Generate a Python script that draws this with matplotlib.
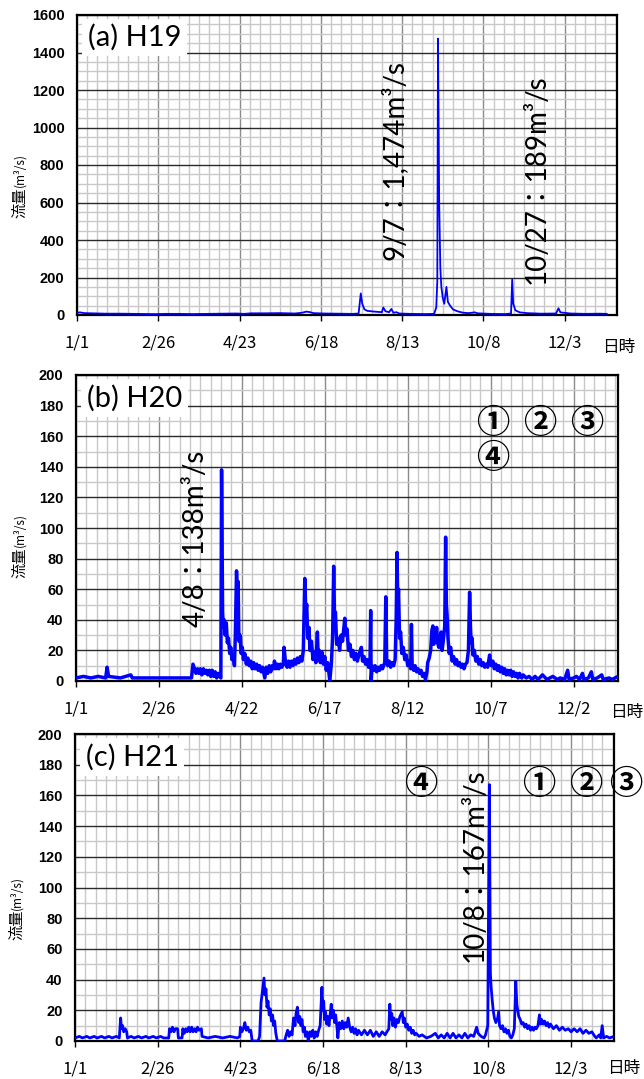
import numpy as np
import matplotlib
matplotlib.use('Agg')
import matplotlib.pyplot as plt
from matplotlib.ticker import MultipleLocator, FixedLocator

plt.rcParams['font.family'] = ['Lato', 'Noto Sans CJK JP', 'DejaVu Sans']

W, H = 644, 1079

# (a) H19 : (dia del año, caudal m3/s)
serie_a = [(0, 12), (2, 14), (5, 10), (10, 9), (15, 8), (20, 7), (30, 7), (40, 6), (50, 5),
           (56, 5), (60, 6), (70, 6), (80, 5), (90, 6), (100, 7), (110, 8), (115, 6),
           (120, 9), (130, 9), (140, 10), (150, 8), (155, 12), (158, 18), (160, 16),
           (163, 10), (170, 8), (180, 7), (190, 6), (194, 8), (195.5, 115), (196.5, 60),
           (198, 30), (200, 22), (205, 18), (210, 15), (211, 40), (212.5, 20), (215, 15),
           (216.5, 32), (218, 12), (220, 15), (222, 8), (230, 6), (240, 5), (246, 6),
           (247.5, 40), (248.2, 180), (248.7, 1474), (249.5, 600), (250.3, 250),
           (251, 150), (252, 90), (253, 60), (254.5, 150), (255.5, 70), (257, 50),
           (259, 30), (262, 20), (266, 12), (270, 10), (274, 14), (276, 9), (285, 6),
           (295, 5), (299, 8), (299.8, 189), (300.5, 60), (302, 25), (305, 14), (310, 10),
           (320, 7), (330, 8), (331.7, 36), (333, 14), (340, 8), (350, 6), (360, 7),
           (364.9, 6)]

# (b) H20
serie_b = [(0, 2), (5, 3), (10, 2), (15, 3), (20, 2), (21, 9), (22, 3), (30, 2), (37, 4),
           (38, 2), (50, 2), (60, 2), (70, 2), (78, 2), (79, 11), (80, 8), (81, 5), (82, 8),
           (83, 5), (84, 8), (85, 4), (86, 8), (87, 5), (88, 7), (89, 4), (90, 7), (91, 3),
           (92, 7), (93, 3), (94, 6), (95, 2), (96, 5), (97.8, 2), (98.3, 138), (99, 45),
           (99.5, 35), (100, 40), (100.7, 30), (101.5, 38), (102.2, 25), (103, 28),
           (103.8, 18), (104.5, 22), (105.3, 14), (106, 17), (107, 10), (107.6, 30),
           (108.4, 72), (109, 55), (109.5, 65), (110, 26), (110.8, 30), (111.5, 18),
           (112.3, 22), (113, 14), (114, 18), (115, 11), (116, 15), (117, 10), (118, 13),
           (119, 8), (120, 12), (121, 8), (122, 11), (123, 7), (124, 10), (125, 6),
           (126, 9), (127.5, 2), (128.5, 9), (129.5, 5), (130.5, 10), (131.5, 6),
           (132.5, 10), (133.5, 8), (134, 13), (135, 8), (136, 11), (137, 8), (138, 11),
           (139, 9), (140, 11), (140.5, 22), (141.5, 12), (142.5, 9), (143.5, 13),
           (144.5, 9), (145.5, 13), (146.5, 10), (147.5, 14), (148.5, 11), (149.5, 15),
           (150.5, 12), (151.5, 16), (152.5, 13), (153.5, 20), (154.5, 67), (155.2, 45),
           (155.8, 50), (156.5, 28), (157.3, 35), (158, 20), (159, 26), (160, 14),
           (161, 19), (162, 12), (163, 32), (163.6, 14), (164.3, 20), (165, 12), (166, 19),
           (167, 11), (168, 16), (169, 7), (170, 12), (171.4, 0), (172.5, 12), (173.3, 30),
           (174, 75), (174.6, 40), (175.2, 45), (176, 24), (177, 28), (178, 20), (179, 30),
           (180, 26), (181.5, 41), (182.3, 30), (183, 34), (184, 20), (185, 24), (186, 16),
           (187, 20), (188, 14), (189, 18), (190, 13), (191, 17), (192.7, 22), (193.5, 13),
           (194.5, 16), (195.5, 11), (196.5, 14), (197.5, 9), (198.5, 10), (199, 46),
           (199.3, 0), (200, 10), (201, 7), (202, 10), (203, 6), (204, 9), (205, 7),
           (206, 10), (207, 8), (208.5, 12), (209.2, 55), (209.8, 14), (210.5, 10),
           (211.5, 13), (212.5, 9), (213.5, 12), (214.5, 10), (215.5, 14), (216.2, 40),
           (216.8, 84), (217.3, 50), (217.8, 60), (218.5, 28), (219.2, 32), (220, 18),
           (221, 22), (222, 14), (223, 17), (224, 10), (225, 13), (226, 8), (226.5, 37),
           (227, 10), (228, 7), (229, 10), (230, 6), (231, 8), (232, 5), (233, 7),
           (234, 3), (235, 5), (236, 1), (237, 6), (237.5, 12), (238.5, 15), (239.5, 20),
           (240.3, 33), (241, 36), (241.6, 24), (242.2, 30), (243, 26), (243.5, 35),
           (244.2, 25), (245, 22), (245.8, 28), (246.5, 32), (247.2, 20), (248, 26),
           (249, 36), (249.6, 94), (250.1, 50), (250.6, 43), (251.2, 28), (252, 18),
           (253, 22), (254, 13), (255, 16), (256, 11), (257, 14), (258, 10), (259, 12),
           (260, 9), (261, 11), (262, 8), (263, 11), (264, 12), (265, 20), (265.8, 58),
           (266.4, 35), (266.8, 25), (267.5, 28), (268, 17), (269, 20), (270, 13),
           (271, 16), (272, 11), (273, 14), (274, 10), (275, 12), (276, 9), (277, 11),
           (278, 9), (279.3, 17), (280, 12), (280.5, 10), (281.5, 13), (282.5, 8),
           (283.5, 11), (284.5, 7), (285.5, 10), (286.5, 6), (287.5, 9), (288.5, 5),
           (289.5, 8), (290.5, 4), (291.5, 7), (292.5, 4), (293.5, 7), (294.5, 3),
           (295.5, 6), (296.5, 3), (297.5, 5), (298.5, 2), (299.5, 5), (301, 2), (302, 4),
           (304, 2), (306, 3), (308, 1), (310, 3), (312, 1), (315, 4), (318, 1), (322, 3),
           (325, 1), (327, 2), (330, 1), (332, 7), (333, 1), (336, 2), (338, 3), (340, 1),
           (342, 5), (343, 1), (346, 2), (348, 6), (349, 1), (352, 2), (355, 4), (356, 1),
           (360, 2), (362, 1), (365.9, 3)]

# (c) H21
serie_c = [(0, 2), (3, 3), (5, 2), (8, 3), (10, 2), (13, 3), (15, 2), (18, 3), (20, 2),
           (23, 3), (25, 2), (28, 3), (30, 2), (30.9, 15), (31.5, 8), (32.2, 10), (33, 6),
           (34, 8), (35, 6), (35.5, 2), (38, 3), (40, 2), (43, 3), (45, 2), (48, 3),
           (50, 2), (53, 3), (55, 2), (58, 3), (60, 2), (63.5, 2), (64, 8), (65, 6),
           (66, 9), (67, 6), (68, 8), (69.5, 8), (70, 2), (72.5, 2), (73, 8), (74, 5),
           (75, 8), (76, 6), (77, 9), (78, 6), (79, 9), (80, 6), (81, 8), (82, 6), (83, 9),
           (84, 7), (85.6, 8), (86, 3), (90, 2), (95, 3), (100, 2), (105, 3), (110, 2),
           (111.6, 3), (112, 9), (113, 6), (114, 8), (115, 12), (116, 7), (117, 9),
           (118, 6), (119, 7), (120, 0), (124, 0), (125, 3), (126, 25), (127, 33),
           (128, 41), (128.6, 30), (129.3, 34), (130, 22), (130.7, 26), (131.5, 17),
           (132.2, 21), (133, 13), (133.8, 17), (134.5, 10), (135.2, 13), (136, 5),
           (137, 0), (142, 0), (143, 4), (144, 7), (145, 3), (146, 6), (147, 4), (148, 15),
           (149, 10), (149.7, 18), (150.6, 22), (151.5, 12), (152.2, 16), (153, 10),
           (153.7, 14), (154.5, 6), (155.3, 9), (156, 3), (157, 6), (158, 0), (159, 6),
           (160, 3), (161, 7), (162, 2), (163, 6), (164, 3), (165, 7), (166, 10),
           (167.2, 35), (167.8, 20), (168.4, 26), (169, 14), (169.7, 19), (170.4, 11),
           (171.1, 16), (172, 10), (173.5, 24), (174.2, 15), (175, 20), (175.8, 12),
           (176.5, 17), (177.3, 10), (178, 2), (179, 12), (180, 8), (181, 13), (182, 8),
           (183, 12), (184, 9), (185, 15), (186, 9), (187, 6), (188, 9), (189, 5), (190, 8),
           (191, 4), (192, 7), (194, 4), (196, 7), (198, 4), (200, 7), (202, 3), (204, 6),
           (206, 3), (208, 6), (210, 4), (212.5, 8), (213.2, 24), (213.8, 14), (214.5, 18),
           (215.2, 10), (216, 15), (217, 9), (218, 14), (219, 12), (220, 16), (221.6, 19),
           (222.3, 12), (223, 15), (224, 9), (225, 11), (226, 7), (227, 9), (228, 5),
           (229, 7), (230, 4), (231, 5), (233, 3), (235, 4), (238, 2), (241, 3), (244, 5),
           (246, 2), (248, 4), (250, 2), (252, 5), (254, 2), (256, 5), (258, 2), (260, 4),
           (262, 2), (264, 5), (266, 2), (268, 4), (270, 3), (272, 9), (273, 5), (275, 3),
           (277, 2), (278, 4), (279.5, 10), (280.6, 167), (281.3, 44), (281.8, 35),
           (282.5, 27), (283.2, 20), (284, 15), (285, 12), (286.2, 15), (286.9, 19),
           (287.5, 10), (288.5, 8), (289.5, 10), (290.5, 6), (291.5, 8), (292.5, 5),
           (293.5, 7), (294.5, 3), (295.5, 2), (296.5, 4), (297.5, 8), (298.5, 39),
           (299.2, 24), (299.8, 20), (300.5, 16), (301.5, 14), (302.5, 11), (303.5, 12),
           (304.5, 9), (305.5, 11), (306.5, 8), (307.5, 10), (308.5, 7), (309.5, 9),
           (310.5, 7), (311.5, 9), (312.5, 8), (313.5, 10), (314.5, 17), (315.3, 11),
           (316, 14), (317, 11), (318, 13), (319, 10), (320, 12), (321, 9), (322, 11),
           (324, 8), (326, 10), (328, 7), (330, 9), (332, 7), (334, 8), (336, 6), (338, 8),
           (340, 6), (342, 8), (344, 5), (346, 7), (348, 5), (350, 6), (352, 3), (353, 2),
           (355, 4), (356, 2), (357, 10), (358, 2), (360, 3), (362, 2), (364.9, 3)]

tick_dias = [0, 56, 112, 168, 224, 280, 336]
ticks_a = ['1/1', '2/26', '4/23', '6/18', '8/13', '10/8', '12/3']
ticks_b = ['1/1', '2/26', '4/22', '6/17', '8/12', '10/7', '12/2']
ticks_c = ['1/1', '2/26', '4/23', '6/18', '8/13', '10/8', '12/3']

fig = plt.figure(figsize=(W / 100, H / 100), dpi=100)


def caja(l, t, r, b):
    return [l / W, 1 - b / H, (r - l) / W, (b - t) / H]


def grafica(rect, serie, xmax, ymax, ymaj, ymin, etiquetas, lw, titulo):
    dias, caudal = zip(*serie)
    ax = fig.add_axes(caja(*rect))
    ax.plot(dias, caudal, color='#0000ff', lw=lw, zorder=3)
    ax.set_xlim(0, xmax)
    ax.set_ylim(0, ymax)
    ax.xaxis.set_major_locator(FixedLocator(tick_dias))
    ax.xaxis.set_minor_locator(MultipleLocator(7))
    ax.set_xticklabels(etiquetas, family='Noto Sans CJK JP', fontsize=12)
    ax.yaxis.set_major_locator(MultipleLocator(ymaj))
    ax.yaxis.set_minor_locator(MultipleLocator(ymin))
    for lab in ax.get_yticklabels():
        lab.set_family('Liberation Sans')
        lab.set_fontsize(10.5)
        lab.set_fontweight('bold')
    ax.grid(which='minor', color='#c8c8c8', lw=1.0)
    ax.grid(which='major', axis='x', color='#8c8c8c', lw=1.0)
    ax.grid(which='major', axis='y', color='#2a2a2a', lw=1.0)
    ax.set_axisbelow(True)
    ax.tick_params(axis='x', which='major', length=4, width=1, direction='out', pad=10)
    ax.tick_params(axis='y', which='major', length=0, pad=9)
    ax.tick_params(which='minor', length=0)
    for s in ax.spines.values():
        s.set_linewidth(1.6)
        s.set_color('black')
    ax.text(0.02, 0.925, titulo, transform=ax.transAxes, fontsize=21, ha='left',
            va='center', zorder=5,
            bbox=dict(facecolor='white', edgecolor='none', pad=4))
    return ax


ax1 = grafica((77, 15, 617, 315), serie_a, 372, 1600, 200, 50, ticks_a, 1.3, '(a) H19')
ax2 = grafica((76, 375, 618, 681), serie_b, 366, 200, 20, 10, ticks_b, 2.5, '(b) H20')
ax3 = grafica((75, 734, 614, 1041), serie_c, 365, 200, 20, 10, ticks_c, 2.0, '(c) H21')

anot = dict(rotation=90, fontsize=20, ha='center', va='center', zorder=4)
ax1.text(218.5, 827, '9/7：1,474m³/s', **anot)
ax1.text(317, 725, '10/27：189m³/s', **anot)
ax2.text(81, 93.5, '4/8：138m³/s', **anot)
ax3.text(270.5, 114.7, '10/8：167m³/s', **anot)

circ = dict(fontsize=24, fontweight='bold', family='Noto Sans CJK JP', ha='center',
            va='center', clip_on=False, zorder=5)
ax2.text(281.4, 168, '①', **circ)
ax2.text(313.1, 168, '②', **circ)
ax2.text(344.8, 168, '③', **circ)
ax2.text(281.4, 145.5, '④', **circ)
ax3.text(234.4, 166.8, '④', **circ)
ax3.text(314.4, 166.8, '①', **circ)
ax3.text(346.0, 166.8, '②', **circ)
ax3.text(373.0, 166.8, '③', **circ)

# etiquetas de ejes
for xp, yp in [(635, 347), (643, 712), (640, 1068)]:
    fig.text(xp / W, 1 - yp / H, '日時', family='Noto Sans CJK JP', fontsize=12,
             ha='right', va='center')
for xp, yp in [(20, 187), (20, 547), (17, 910)]:
    fig.text(xp / W, 1 - yp / H, '流量', family='Noto Sans CJK JP', fontsize=11,
             rotation=90, ha='center', va='top')
    fig.text(xp / W, 1 - yp / H, '(m³/s)', family='Noto Sans CJK JP', fontsize=8.5,
             rotation=90, ha='center', va='bottom')

fig.savefig('out.png', dpi=100)
